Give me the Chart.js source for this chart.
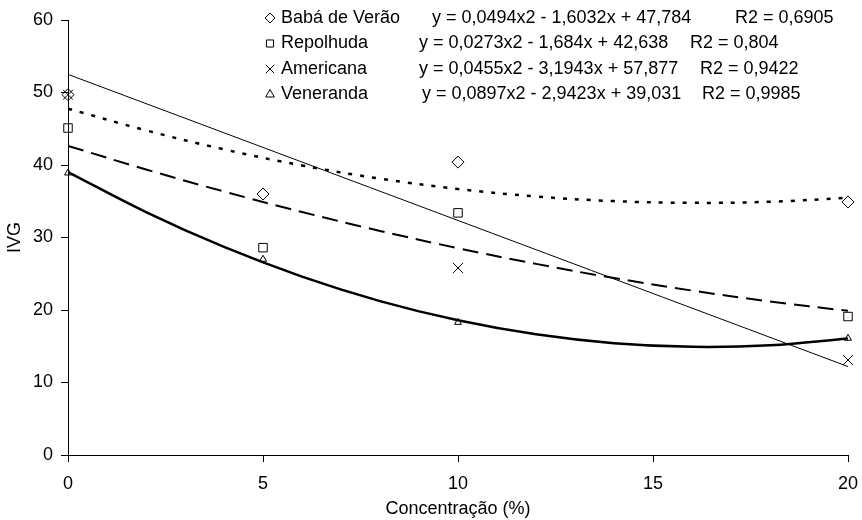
<!DOCTYPE html>
<html>
<head>
<meta charset="utf-8">
<script src="https://cdn.jsdelivr.net/npm/chart.js@4/dist/chart.umd.min.js"></script>
<style>
  body { margin: 0; background: #fff; }
</style>
</head>
<body>
<canvas id="chart" width="862" height="520"></canvas>
<script>
// valores observados (IVG) por concentração
const concentracao = [0, 5, 10, 20];
const babaPontos = [49.7, 36.0, 40.4, 34.9];
const repolhudaPontos = [45.1, 28.6, 33.4, 19.1];
const americanaX = [0, 10, 20];
const americanaPontos = [49.7, 25.8, 13.1];
const venerandaPontos = [38.9, 27.0, 18.3, 16.1];

// linhas de tendência
const tendX = [0, 2, 4, 6, 8, 10, 12, 14, 16, 18, 20];
const babaTend = [47.78, 44.78, 42.16, 39.94, 38.12, 36.69, 35.66, 35.02, 34.78, 34.93, 35.48];
const repolhudaTend = [42.64, 39.38, 36.34, 33.52, 30.91, 28.53, 26.36, 24.41, 22.68, 21.17, 19.88];
const venerandaTend = [39.03, 33.51, 28.70, 24.61, 21.23, 18.58, 16.64, 15.42, 14.92, 15.13, 16.07];
const americanaTendX = [0, 20];
const americanaTend = [52.5, 12.2];

const xTicks = [0, 5, 10, 15, 20];
const yTicks = [0, 10, 20, 30, 40, 50, 60];

const legendaNomes = ["Babá de Verão", "Repolhuda", "Americana", "Veneranda"];
const legendaEq = [
    "y = 0,0494x2 - 1,6032x + 47,784",
    "y = 0,0273x2 - 1,684x + 42,638",
    "y = 0,0455x2 - 3,1943x + 57,877",
    "y = 0,0897x2 - 2,9423x + 39,031"
];
const legendaR2 = ["R2 = 0,6905", "R2 = 0,804", "R2 = 0,9422", "R2 = 0,9985"];
const legendaEstilo = ["rectRot", "rect", "crossRot", "triangle"];

function pts(xs, ys) {
    return xs.map((x, i) => ({ x: x, y: ys[i] }));
}

function marcador(label, data, style, r) {
    return {
        label: label,
        data: data,
        showLine: false,
        pointStyle: style,
        pointRadius: r,
        pointBorderColor: "#000",
        pointBackgroundColor: "rgba(0,0,0,0)",
        pointBorderWidth: 1,
        clip: false
    };
}

function linha(label, data, width, dash) {
    return {
        label: label,
        data: data,
        showLine: true,
        borderColor: "#000",
        borderWidth: width,
        borderDash: dash,
        pointRadius: 0,
        tension: 0.4,
        fill: false
    };
}

const fonte = { family: "'Liberation Sans', Arial, sans-serif", size: 18 };

const legendaPlugin = {
    id: "legenda",
    afterDraw(chart) {
        const ctx = chart.ctx;
        const eqX = [432, 419, 419, 422];
        const r2X = [735, 690, 700, 702];
        ctx.save();
        ctx.font = "18px 'Liberation Sans', Arial, sans-serif";
        ctx.textBaseline = "middle";
        for (let i = 0; i < legendaNomes.length; i++) {
            const y = 18 + i * 25.5;
            ctx.fillStyle = "rgba(0,0,0,0)";
            ctx.strokeStyle = "#000";
            Chart.helpers.drawPoint(ctx, {
                pointStyle: legendaEstilo[i],
                radius: legendaEstilo[i] === "crossRot" ? 6 : 5,
                borderWidth: 1
            }, 270, y);
            ctx.fillStyle = "#000";
            ctx.fillText(legendaNomes[i], 281, y);
            ctx.fillText(legendaEq[i], eqX[i], y);
            ctx.fillText(legendaR2[i], r2X[i], y);
        }
        ctx.restore();
    }
};

new Chart(document.getElementById("chart"), {
    type: "scatter",
    data: {
        datasets: [
            linha("Babá tend", pts(tendX, babaTend), 2.5, [4, 8]),
            linha("Repolhuda tend", pts(tendX, repolhudaTend), 2, [16, 8]),
            linha("Americana tend", pts(americanaTendX, americanaTend), 1, []),
            linha("Veneranda tend", pts(tendX, venerandaTend), 2.5, []),
            marcador("Babá de Verão", pts(concentracao, babaPontos), "rectRot", 6),
            marcador("Repolhuda", pts(concentracao, repolhudaPontos), "rect", 6),
            marcador("Americana", pts(americanaX, americanaPontos), "crossRot", 7),
            marcador("Veneranda", pts(concentracao, venerandaPontos), "triangle", 4)
        ]
    },
    options: {
        responsive: false,
        animation: false,
        layout: { padding: { top: 20, right: 14, left: 0, bottom: 0 } },
        plugins: { legend: { display: false }, tooltip: { enabled: false } },
        scales: {
            x: {
                type: "linear",
                min: 0, max: 20,
                afterBuildTicks: s => { s.ticks = xTicks.map(v => ({ value: v })); },
                afterFit: s => { s.height = 65; s.paddingLeft = 0; s.paddingRight = 0; },
                grid: { drawOnChartArea: false, drawTicks: true, tickLength: 7, color: "#000" },
                border: { display: true, color: "#000", width: 1 },
                ticks: { color: "#000", font: fonte, padding: 11, maxRotation: 0 },
                title: { display: true, text: "Concentração (%)", color: "#000", font: fonte, padding: { top: 0, bottom: 0 } }
            },
            y: {
                min: 0, max: 60,
                afterBuildTicks: s => { s.ticks = yTicks.map(v => ({ value: v })); },
                afterFit: s => { s.width = 68; s.paddingTop = 0; s.paddingBottom = 0; },
                grid: { drawOnChartArea: false, drawTicks: true, tickLength: 7, color: "#000" },
                border: { display: true, color: "#000", width: 1 },
                ticks: { color: "#000", font: fonte, padding: 8 },
                title: { display: true, text: "IVG", color: "#000", font: fonte, padding: { bottom: 4 } }
            }
        }
    },
    plugins: [legendaPlugin]
});
</script>
</body>
</html>
